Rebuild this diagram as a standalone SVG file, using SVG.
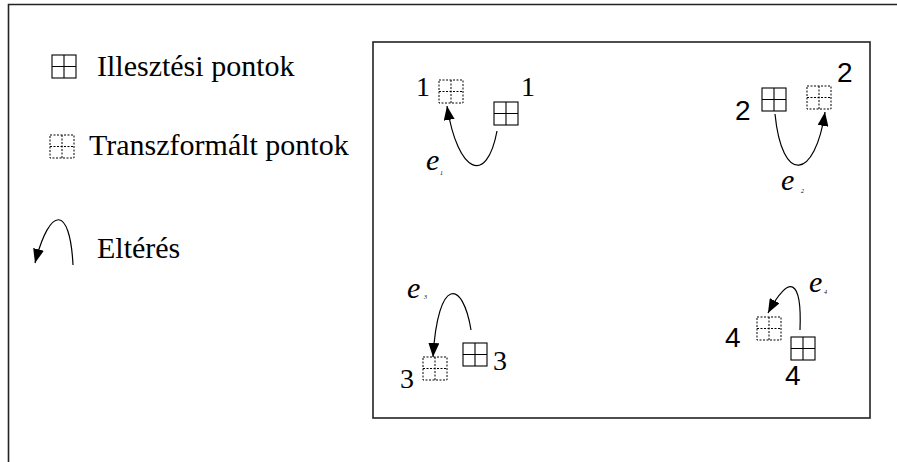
<svg xmlns="http://www.w3.org/2000/svg" width="897" height="462" viewBox="0 0 897 462">
  <style>
    .frame { fill: none; stroke: #222; stroke-width: 1.6; }
    .solid { fill: none; stroke: #000; stroke-width: 1.1; }
    .dashed { fill: none; stroke: #000; stroke-width: 1; stroke-dasharray: 2 1.5; }
    .curve { fill: none; stroke: #000; stroke-width: 1.2; }
    .txt { font-family: "Liberation Serif", "Times New Roman", serif; fill: #000; }
    .legend { font-size: 30px; }
    .num { font-size: 28px; }
    .numsans { font-family: "Liberation Sans", Arial, sans-serif; font-size: 28px; fill: #000; }
    .e { font-size: 30px; font-style: italic; }
    .sub { font-size: 6px; font-style: italic; }
  </style>
  <defs>
    <marker id="arrow" viewBox="0 0 14 11" refX="14" refY="5.5" markerWidth="14" markerHeight="11" markerUnits="userSpaceOnUse" orient="auto">
      <path d="M0,0 L14,5.5 L0,11 Z" fill="#000"/>
    </marker>
    <!-- square with a cross: the two point styles -->
    <g id="sq-solid">
      <rect class="solid" x="0" y="0" width="24" height="23"/>
      <path class="solid" d="M12,0 V23 M0,11.5 H24"/>
    </g>
    <g id="sq-dashed">
      <rect class="dashed" x="0" y="0" width="24" height="23"/>
      <path class="dashed" d="M12,0 V23 M0,11.5 H24"/>
    </g>
  </defs>

  <rect width="897" height="462" fill="#fff"/>

  <!-- outer frame (only left and top edges visible) -->
  <path class="frame" d="M8.5,462 V4.5 H897"/>

  <!-- legend -->
  <g id="legend-illesztesi">
    <use href="#sq-solid" x="52" y="55"/>
    <text class="txt legend" x="97" y="76">Illesztési pontok</text>
  </g>
  <g id="legend-transzformalt">
    <use href="#sq-dashed" x="50" y="135"/>
    <text class="txt legend" x="89" y="155">Transzformált pontok</text>
  </g>
  <g id="legend-elteres">
    <text class="txt legend" x="97" y="258">Eltérés</text>
  </g>

  <!-- plot area -->
  <rect id="plot-area" class="frame" x="373" y="42" width="497" height="376"/>

  <!-- point pair 1 -->
  <g id="p1-transformed">
    <use href="#sq-dashed" x="439" y="80"/>
    <text class="txt num" x="416" y="96">1</text>
  </g>
  <g id="p1-fit">
    <use href="#sq-solid" x="494" y="102"/>
    <text class="txt num" x="521" y="96">1</text>
  </g>
  <g id="e1">
    <text class="txt e" x="426" y="170">e</text>
    <text class="txt sub" x="440" y="175">1</text>
  </g>

  <!-- point pair 2 -->
  <g id="p2-fit">
    <use href="#sq-solid" x="762" y="88"/>
    <text class="numsans" x="735" y="120">2</text>
  </g>
  <g id="p2-transformed">
    <use href="#sq-dashed" x="807" y="86"/>
    <text class="numsans" x="837" y="82">2</text>
  </g>
  <g id="e2">
    <text class="txt e" x="781" y="190">e</text>
    <text class="txt sub" x="801" y="193">2</text>
  </g>

  <!-- point pair 3 -->
  <g id="p3-transformed">
    <use href="#sq-dashed" x="423" y="357"/>
    <text class="txt num" x="400" y="388">3</text>
  </g>
  <g id="p3-fit">
    <use href="#sq-solid" x="463" y="343"/>
    <text class="txt num" x="493" y="370">3</text>
  </g>
  <g id="e3">
    <text class="txt e" x="407" y="298">e</text>
    <text class="txt sub" x="424" y="299">3</text>
  </g>

  <!-- point pair 4 -->
  <g id="p4-transformed">
    <use href="#sq-dashed" x="757" y="317"/>
    <text class="numsans" x="725" y="347">4</text>
  </g>
  <g id="p4-fit">
    <use href="#sq-solid" x="791" y="337"/>
    <text class="numsans" x="785" y="385">4</text>
  </g>
  <g id="e4">
    <text class="txt e" x="809" y="292">e</text>
    <text class="txt sub" x="824" y="294">4</text>
  </g>

  <!-- deviation arrows -->
  <g id="connectors">
    <path class="curve" marker-end="url(#arrow)" d="M73,265 C70,205 50,205 35,263"/>
    <path class="curve" marker-end="url(#arrow)" d="M497,131 C487,185 458,175 447,106"/>
    <path class="curve" marker-end="url(#arrow)" d="M775,114 C782,185 815,180 825,112"/>
    <path class="curve" marker-end="url(#arrow)" d="M471,330 C463,280 438,275 433,357"/>
    <path class="curve" marker-end="url(#arrow)" d="M800,330 C802,280 790,272 768,313"/>
  </g>
</svg>
